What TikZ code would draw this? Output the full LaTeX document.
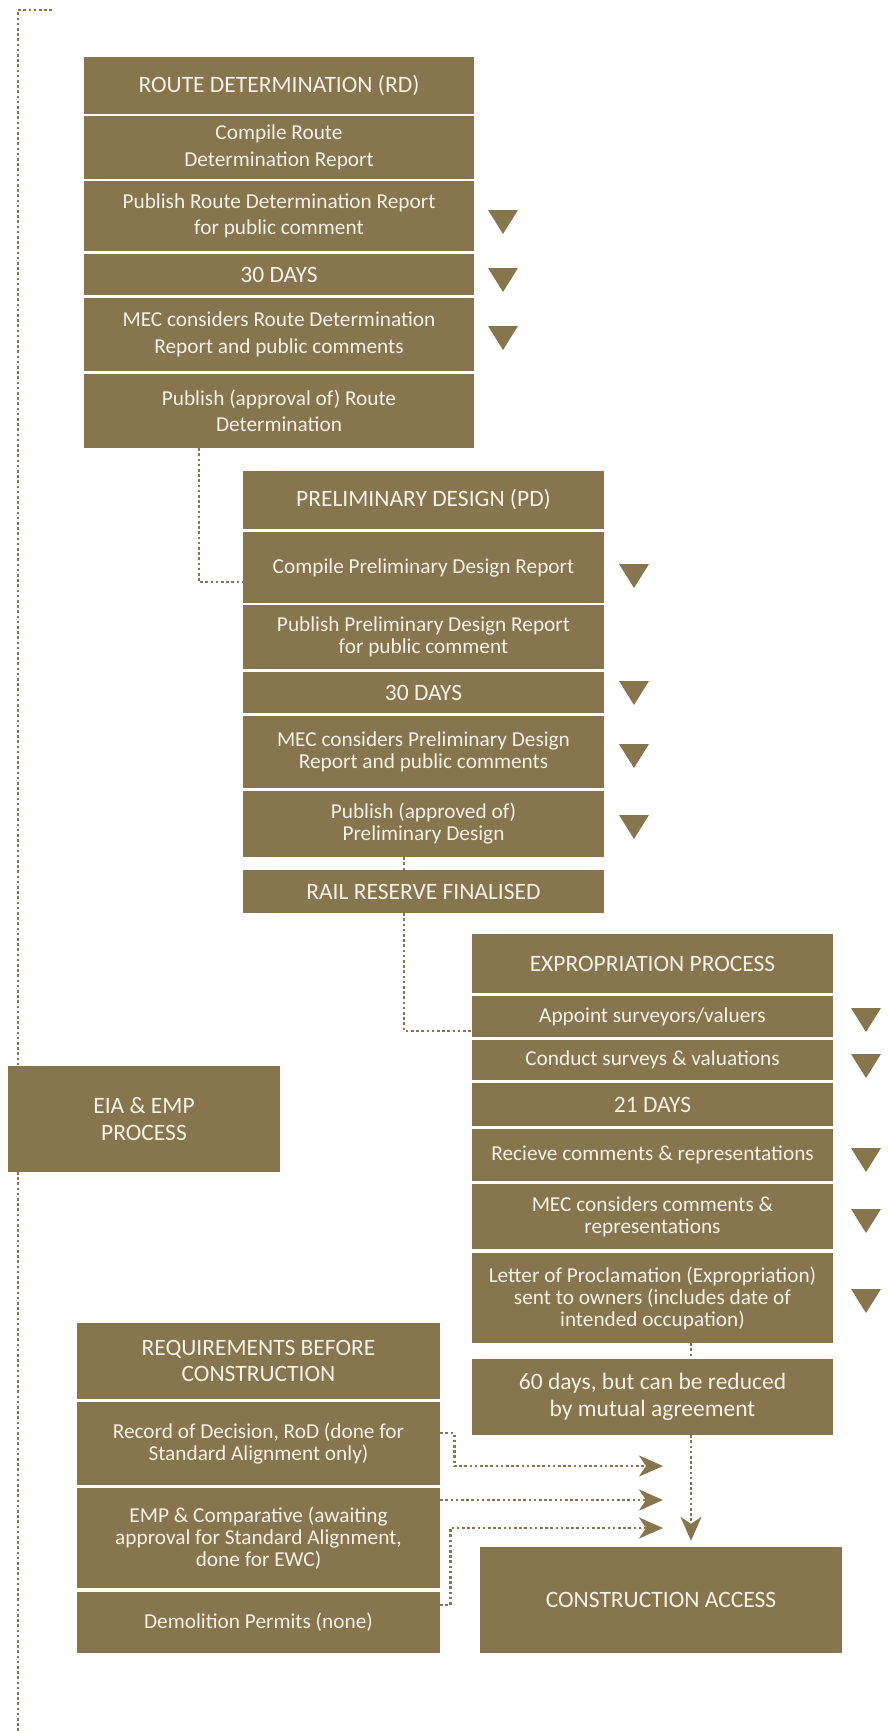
\documentclass[tikz,border=0pt]{standalone}
\usepackage{fontspec}
\setmainfont{Carlito}
\usetikzlibrary{arrows.meta}
\definecolor{olivebrown}{RGB}{134,117,77}
\definecolor{cream}{RGB}{246,242,234}

\begin{document}
\begin{tikzpicture}[x=1pt, y=-1pt,
    % plain step box
    block/.style={
        fill=olivebrown,
        text=cream,
        inner sep=0pt,
        align=center,
        font=\fontsize{21.3}{22}\selectfont
    },
    % wider line spacing (route determination)
    loose/.style={font=\fontsize{21.3}{26.5}\selectfont},
    % title boxes
    headblock/.style={block, font=\fontsize{23.5}{26.5}\selectfont},
    % dotted connectors
    dotline/.style={olivebrown, line width=2.6pt, dash pattern=on 2.6pt off 2.6pt},
    dotarrow/.style={dotline, -{Stealth[length=24pt, width=21pt, inset=7pt]}},
    % small down triangle beside a step
    marker/.pic={\fill[olivebrown] (-15,-12) -- (15,-12) -- (0,12) -- cycle;}
]
    \useasboundingbox (0,0) rectangle (888,1731);

    % ================== EIA timeline (left) ==================
    \coordinate (time_top) at (52,10);
    \coordinate (time_end) at (18,1731);
    \draw[dotline] (time_top) -| (time_end);

    % ================== Route Determination ==================
    \node[headblock, minimum width=390pt, minimum height=57pt] (rd_head) at (279,85.5) {ROUTE DETERMINATION (RD)};
    \node[block, loose, minimum width=390pt, minimum height=63pt] (rd_compile) at (279,147.5) {Compile Route\\Determination Report};
    \node[block, loose, minimum width=390pt, minimum height=70pt] (rd_publish) at (279,216) {Publish Route Determination Report\\for public comment};
    \node[headblock, minimum width=390pt, minimum height=41pt] (rd_days) at (279,274.5) {30 DAYS};
    \node[block, loose, minimum width=390pt, minimum height=73pt] (rd_mec) at (279,334.5) {MEC considers Route Determination\\Report and public comments};
    \node[block, loose, minimum width=390pt, minimum height=74pt] (rd_approve) at (279,411) {Publish (approval of) Route\\Determination};

    \pic at (503,222) {marker};
    \pic at (503,280) {marker};
    \pic at (503,338) {marker};

    % ================== Preliminary Design ==================
    \node[headblock, minimum width=361pt, minimum height=58pt] (pd_head) at (423.5,500) {PRELIMINARY DESIGN (PD)};
    \node[block, minimum width=361pt, minimum height=71pt] (pd_compile) at (423.5,567.5) {Compile Preliminary Design Report};
    \node[block, minimum width=361pt, minimum height=64pt] (pd_publish) at (423.5,637) {Publish Preliminary Design Report\\for public comment};
    \node[headblock, minimum width=361pt, minimum height=41pt] (pd_days) at (423.5,692.5) {30 DAYS};
    \node[block, minimum width=361pt, minimum height=72pt] (pd_mec) at (423.5,752) {MEC considers Preliminary Design\\Report and public comments};
    \node[block, minimum width=361pt, minimum height=66pt] (pd_approve) at (423.5,824) {Publish (approved of)\\Preliminary Design};
    \node[headblock, minimum width=361pt, minimum height=43pt] (rail) at (423.5,891.5) {RAIL RESERVE FINALISED};

    \pic at (634,576) {marker};
    \pic at (634,693) {marker};
    \pic at (634,756) {marker};
    \pic at (634,827) {marker};

    % ================== Expropriation ==================
    \node[headblock, minimum width=361pt, minimum height=59pt] (ex_head) at (652.5,963.5) {EXPROPRIATION PROCESS};
    \node[block, minimum width=361pt, minimum height=41pt] (ex_appoint) at (652.5,1016.5) {Appoint surveyors/valuers};
    \node[block, minimum width=361pt, minimum height=40pt] (ex_conduct) at (652.5,1060) {Conduct surveys \& valuations};
    \node[headblock, minimum width=361pt, minimum height=43pt] (ex_days) at (652.5,1104.5) {21 DAYS};
    \node[block, minimum width=361pt, minimum height=52pt] (ex_receive) at (652.5,1155) {Recieve comments \& representations};
    \node[block, minimum width=361pt, minimum height=65pt] (ex_mec) at (652.5,1216.5) {MEC considers comments \&\\representations};
    \node[block, minimum width=361pt, minimum height=90pt] (ex_letter) at (652.5,1298) {Letter of Proclamation (Expropriation)\\sent to owners (includes date of\\intended occupation)};
    \node[headblock, minimum width=361pt, minimum height=76pt] (ex_sixty) at (652.5,1397) {60 days, but can be reduced\\by mutual agreement};

    \pic at (866,1020) {marker};
    \pic at (866,1066) {marker};
    \pic at (866,1160) {marker};
    \pic at (866,1221) {marker};
    \pic at (866,1301) {marker};

    % ================== EIA & EMP ==================
    \node[headblock, minimum width=272pt, minimum height=106pt] (eia) at (144,1119) {EIA \& EMP\\PROCESS};

    % ================== Requirements ==================
    \node[headblock, minimum width=363pt, minimum height=76pt] (req_head) at (258.5,1361) {REQUIREMENTS BEFORE\\CONSTRUCTION};
    \node[block, minimum width=363pt, minimum height=83pt] (req_rod) at (258.5,1443.5) {Record of Decision, RoD (done for\\Standard Alignment only)};
    \node[block, minimum width=363pt, minimum height=100pt] (req_emp) at (258.5,1538) {EMP \& Comparative (awaiting\\approval for Standard Alignment,\\done for EWC)};
    \node[block, minimum width=363pt, minimum height=61pt] (req_demol) at (258.5,1622.5) {Demolition Permits (none)};

    \node[headblock, minimum width=362pt, minimum height=106pt] (access) at (661,1600) {CONSTRUCTION ACCESS};

    % ================== Links ==================
    \draw[dotline] ([xshift=115pt]rd_approve.south west) |- ([yshift=-14.5pt]pd_compile.west);
    \draw[dotline] ([xshift=-19.5pt]pd_approve.south) -- ([xshift=-19.5pt]rail.north);
    \draw[dotline] ([xshift=-19.5pt]rail.south) |- ([yshift=-14.5pt]ex_appoint.west);
    \draw[dotline] ([xshift=38.5pt]ex_letter.south) -- ([xshift=38.5pt]ex_sixty.north);

    \coordinate (sixty_out) at ([xshift=38.5pt]ex_sixty.south);
    \draw[dotarrow, shorten >=6pt] (sixty_out) -- (sixty_out |- access.north);

    % requirements feed into access
    \coordinate (rod_tip) at (663,1466);
    \coordinate (emp_tip) at (663,1500);
    \coordinate (demol_tip) at (663,1528);
    \draw[dotarrow] ([yshift=10.5pt]req_rod.east) -- ++(14,0) |- (rod_tip);
    \draw[dotarrow] ([yshift=38pt]req_emp.east) -- (emp_tip);
    \draw[dotarrow] ([yshift=17.5pt]req_demol.east) -- ++(10,0) |- (demol_tip);

\end{tikzpicture}
\end{document}
